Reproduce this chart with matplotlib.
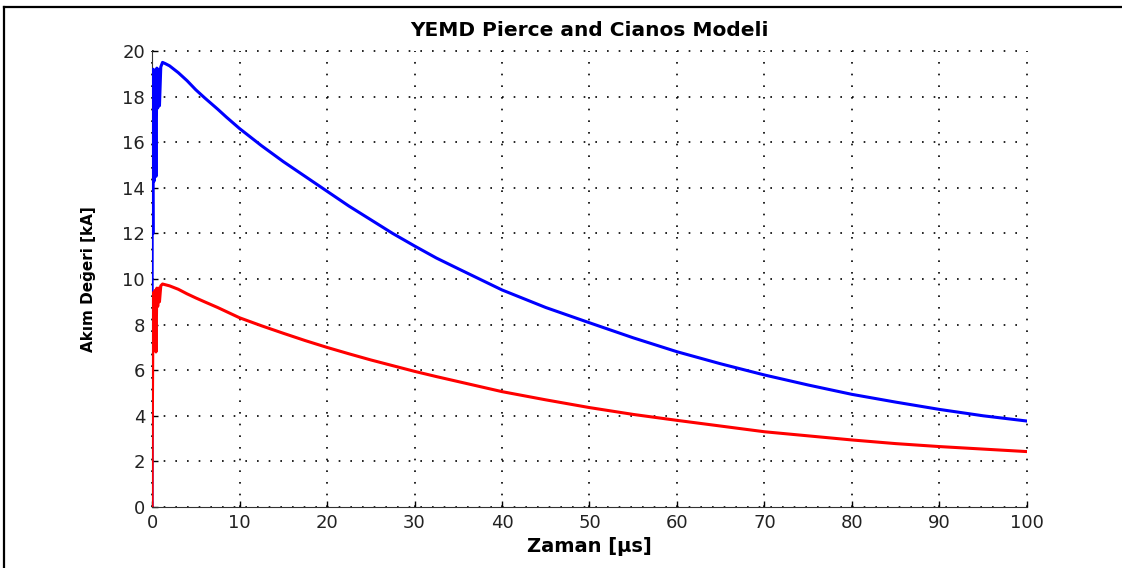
import numpy as np
import matplotlib
matplotlib.use("Agg")
import matplotlib.pyplot as plt
from matplotlib.lines import Line2D

# time axis [us]
t = [0, 0.02, 0.1, 0.15, 0.25, 0.35, 0.45, 0.55, 0.65, 0.75, 0.85, 1.0, 1.2,
     1.5, 2, 3, 4, 5, 6, 7.5, 8.5, 10, 12.5, 15, 17.5, 20, 22.5, 25, 27.5,
     30, 32.5, 35, 40, 45, 50, 55, 60, 65, 70, 75, 80, 85, 90, 95, 100]

# upper curve (blue) [kA]
akim_mavi = [0, 16.7, 12.0, 19.2, 14.3, 18.9, 14.5, 19.25, 17.5, 19.2, 17.6,
             19.3, 19.5, 19.45, 19.35, 19.05, 18.7, 18.3, 17.95, 17.45, 17.1,
             16.6, 15.85, 15.15, 14.5, 13.85, 13.2, 12.6, 12.0, 11.45, 10.92,
             10.45, 9.52, 8.75, 8.08, 7.42, 6.81, 6.28, 5.79, 5.35, 4.94,
             4.6, 4.28, 4.0, 3.77]

# lower curve (red) [kA]
akim_kirmizi = [0, 2.9, 8.0, 9.4, 7.0, 9.5, 6.8, 9.6, 8.8, 9.6, 9.0, 9.7,
                9.78, 9.75, 9.7, 9.55, 9.35, 9.17, 9.0, 8.75, 8.57, 8.3,
                7.95, 7.62, 7.3, 7.0, 6.72, 6.45, 6.2, 5.95, 5.72, 5.5, 5.06,
                4.7, 4.36, 4.06, 3.8, 3.55, 3.30, 3.12, 2.94, 2.78, 2.65,
                2.54, 2.43]

xticks = np.arange(0, 101, 10)
yticks = np.arange(0, 21, 2)

fig = plt.figure(figsize=(11.22, 5.68), dpi=100)
ax = fig.add_axes([0.1355, 0.1074, 0.7798, 0.8028])

ax.plot(t, akim_mavi, color=(0, 0, 1), lw=2.2, zorder=3)
ax.plot(t, akim_kirmizi, color=(1, 0, 0), lw=2.2, zorder=4)

ax.set_xlim(0, 100)
ax.set_ylim(0, 20)
ax.set_xticks(xticks)
ax.set_yticks(yticks)
ax.tick_params(direction="in", length=4, width=1, labelsize=13, pad=5,
               colors="black")
for lab in ax.get_xticklabels() + ax.get_yticklabels():
    lab.set_color("#222222")

ax.spines["top"].set_visible(False)
ax.spines["right"].set_visible(False)
ax.spines["left"].set_color("#333333")
ax.spines["bottom"].set_color("#333333")

ax.grid(True, color="black", linestyle=(0, (1, 6)), linewidth=1.2)
for gl in ax.get_xgridlines() + ax.get_ygridlines():
    gl.set_clip_on(False)
ax.set_axisbelow(True)

ax.set_title("YEMD Pierce and Cianos Modeli", fontsize=14.5,
             fontweight="bold", pad=11)
ax.set_xlabel("Zaman [\u00b5s]", fontsize=14, fontweight="bold", labelpad=4)
ax.set_ylabel("Ak\u0131m De\u011feri [kA]", fontsize=11, fontweight="bold",
              labelpad=19)

# frame around the figure (left and top edges only)
fig.add_artist(Line2D([4 / 1122, 4 / 1122], [0, 1 - 7 / 568],
                      transform=fig.transFigure, color="black", lw=1.6))
fig.add_artist(Line2D([4 / 1122, 1], [1 - 7 / 568, 1 - 7 / 568],
                      transform=fig.transFigure, color="black", lw=1.6))

fig.savefig("out.png", dpi=100)
